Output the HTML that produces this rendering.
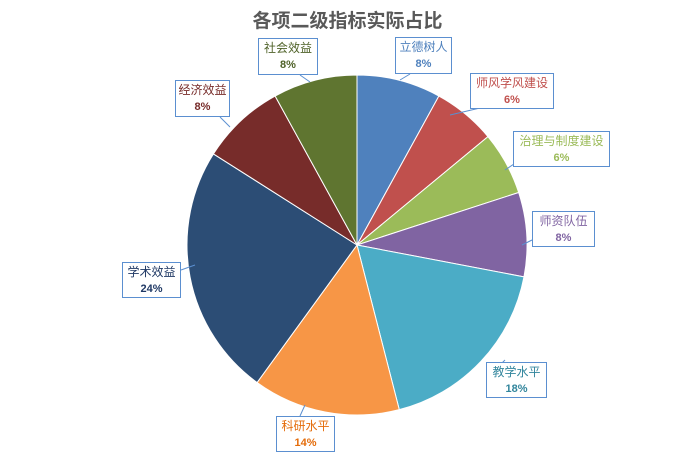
<!DOCTYPE html><html><head><meta charset="utf-8"><style>
body{margin:0;background:#fff;font-family:"Liberation Sans","Noto Sans CJK SC",sans-serif}
.b{position:absolute;background:#fff;border:1px solid #5b8fd0;text-align:center;font-size:12px;line-height:17px;box-sizing:border-box;padding-top:1px}
.b b{display:block;font-size:11px}
</style></head><body>
<div style="position:relative;width:695px;height:455px;overflow:hidden">
<div style="position:absolute;left:0;width:695px;top:6px;text-align:center;font-size:19px;font-weight:bold;color:#595959">各项二级指标实际占比</div>
<svg id="s" width="695" height="455" style="position:absolute;left:0;top:0"></svg>
<div class="b" style="left:395px;top:37px;width:57px;height:37px;color:#4F81BD">立德树人<b>8%</b></div>
<div class="b" style="left:470px;top:73px;width:84px;height:36px;color:#C0504D">师风学风建设<b>6%</b></div>
<div class="b" style="left:513px;top:131px;width:97px;height:36px;color:#9BBB59">治理与制度建设<b>6%</b></div>
<div class="b" style="left:532px;top:211px;width:63px;height:36px;color:#8064A2">师资队伍<b>8%</b></div>
<div class="b" style="left:486px;top:362px;width:61px;height:36px;color:#31859C">教学水平<b>18%</b></div>
<div class="b" style="left:276px;top:416px;width:59px;height:36px;color:#E46C0A">科研水平<b>14%</b></div>
<div class="b" style="left:122px;top:262px;width:59px;height:36px;color:#1F3864">学术效益<b>24%</b></div>
<div class="b" style="left:175px;top:80px;width:55px;height:37px;color:#772C2A">经济效益<b>8%</b></div>
<div class="b" style="left:258px;top:38px;width:60px;height:37px;color:#4F6228">社会效益<b>8%</b></div>
</div>
<script>
var d=[[8,"#4F81BD"],[6,"#C0504D"],[6,"#9BBB59"],[8,"#8064A2"],[18,"#4BACC6"],[14,"#F79646"],[24,"#2C4D75"],[8,"#772C2A"],[8,"#5F7530"]];
var cx=357,cy=245,r=170,a=0,h="";
d.forEach(function(e){var a2=a+e[0]/100*2*Math.PI;
var x1=cx+r*Math.sin(a),y1=cy-r*Math.cos(a),x2=cx+r*Math.sin(a2),y2=cy-r*Math.cos(a2);
h+='<path d="M'+cx+','+cy+'L'+x1+','+y1+'A'+r+','+r+' 0 '+(a2-a>Math.PI?1:0)+' 1 '+x2+','+y2+'Z" fill="'+e[1]+'" stroke="#fff" stroke-width="1"/>';a=a2;});
h+='<g stroke="#5b8fd0" fill="none"><path d="M410,74L400,80"/><path d="M480,108L450,115"/><path d="M520,160L505,170"/><path d="M532,240L522,245"/><path d="M495,370L505,360"/><path d="M300,416L305,405"/><path d="M181,270L195,265"/><path d="M220,117L230,127"/><path d="M300,75L310,82"/></g>';
document.getElementById("s").innerHTML=h;
</script>
</body></html>
